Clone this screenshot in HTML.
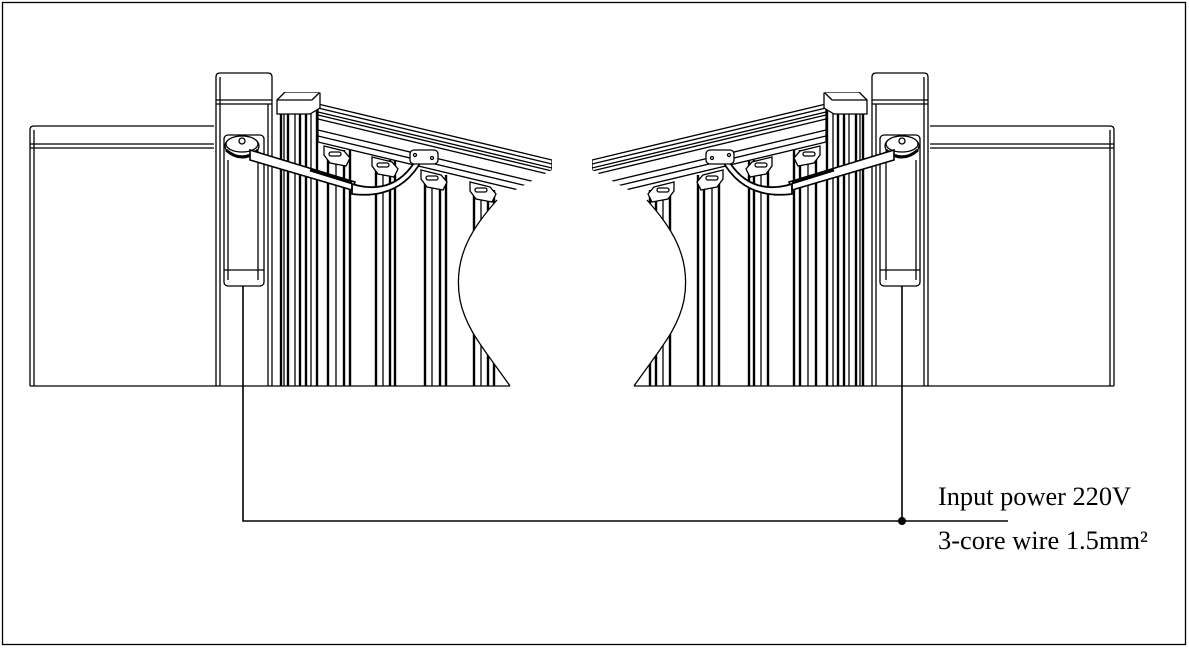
<!DOCTYPE html>
<html><head><meta charset="utf-8"><style>
html,body{margin:0;padding:0;background:#fff;}
svg{display:block}
</style></head><body>
<svg width="1189" height="648" viewBox="0 0 1189 648" xmlns="http://www.w3.org/2000/svg">
<defs>
<clipPath id="gc">
<path d="M276,386 L276,92 L318,92 L552,158 L552,170 L497,200 C475,225 452,255 460,300 C466,330 485,350 510,386 Z"/>
</clipPath>
<g id="side" fill="none" stroke="#000" stroke-width="1.3">
  <path d="M30,386 L30,130 Q30,126 34,126 L214,126"/>
  <line x1="34" y1="130" x2="34" y2="386"/>
  <line x1="30" y1="144" x2="214" y2="144"/>
  <line x1="30" y1="148" x2="214" y2="148"/>
  <line x1="30" y1="386" x2="276" y2="386"/>
  <path d="M216,386 L216,77 Q216,73 220,73 L268,73 Q272,73 272,77 L272,386"/>
  <line x1="220" y1="77" x2="220" y2="386"/>
  <line x1="216" y1="100" x2="272" y2="100"/>
  <line x1="216" y1="104" x2="272" y2="104"/>
  <line x1="268" y1="104" x2="268" y2="386"/>
  <rect x="224" y="135" width="40" height="151" rx="4"/>
  <line x1="228" y1="160" x2="228" y2="280"/>
  <line x1="258" y1="160" x2="258" y2="280"/>
  <line x1="224" y1="270" x2="264" y2="270"/>
  <ellipse cx="242" cy="146" rx="17" ry="10" fill="#fff"/>
  <ellipse cx="242" cy="144" rx="16" ry="8" fill="#fff"/>
  <path d="M226,150 Q242,164 258,150" stroke-width="3"/>
  <circle cx="242" cy="141" r="3"/>
  <g clip-path="url(#gc)">
    <g stroke-width="2.4">
      <line x1="281" y1="100" x2="281" y2="386"/>
      <line x1="288" y1="100" x2="288" y2="386"/>
      <line x1="300" y1="100" x2="300" y2="386"/>
      <line x1="306" y1="100" x2="306" y2="386"/>
      <line x1="317" y1="110" x2="317" y2="386"/>
      <line x1="328" y1="150" x2="328" y2="386"/>
      <line x1="344" y1="150" x2="344" y2="386"/>
      <line x1="350" y1="150" x2="350" y2="386"/>
      <line x1="376" y1="160" x2="376" y2="386"/>
      <line x1="390" y1="160" x2="390" y2="386"/>
      <line x1="395" y1="160" x2="395" y2="386"/>
      <line x1="425" y1="175" x2="425" y2="386"/>
      <line x1="440" y1="175" x2="440" y2="386"/>
      <line x1="446" y1="175" x2="446" y2="386"/>
      <line x1="474" y1="190" x2="474" y2="386"/>
      <line x1="488" y1="190" x2="488" y2="386"/>
      <line x1="494" y1="190" x2="494" y2="386"/>
    </g>
    <line x1="284" y1="100" x2="284" y2="386"/>
    <line x1="295" y1="100" x2="295" y2="386"/>
    <line x1="311" y1="100" x2="311" y2="386"/>
    <line x1="336" y1="150" x2="336" y2="386"/>
    <line x1="383" y1="160" x2="383" y2="386"/>
    <line x1="432" y1="175" x2="432" y2="386"/>
    <line x1="481" y1="190" x2="481" y2="386"/>
    <path d="M318,104 L552,160 L552,198 L318,142 Z" fill="#fff"/>
    <line x1="318" y1="108" x2="552" y2="164"/>
    <line x1="318" y1="112" x2="552" y2="168"/>
    <line x1="318" y1="115" x2="552" y2="171"/>
    <line x1="318" y1="119" x2="552" y2="175"/>
    <line x1="318" y1="130" x2="552" y2="186"/>
    <line x1="318" y1="136" x2="552" y2="192"/>
    <path d="M277,100 L285,92 L320,92 L320,108 L310,114 L277,114 Z" fill="#fff"/>
    <line x1="277" y1="100" x2="312" y2="100"/>
    <line x1="312" y1="100" x2="320" y2="92"/>
    <path d="M324,146 L344,151 L350,158 L346,166 L330,163 L324,155 Z" fill="#fff"/>
    <rect x="329" y="152" width="12" height="4" rx="2"/>
    <path d="M372,157 L392,162 L398,169 L394,177 L378,174 L372,166 Z" fill="#fff"/>
    <rect x="377" y="163" width="12" height="4" rx="2"/>
    <path d="M421,170 L441,175 L447,182 L443,190 L427,187 L421,179 Z" fill="#fff"/>
    <rect x="426" y="176" width="12" height="4" rx="2"/>
    <path d="M470,182 L490,187 L496,194 L492,202 L476,199 L470,191 Z" fill="#fff"/>
    <rect x="475" y="188" width="12" height="4" rx="2"/>
  </g>
  <path d="M497,200 C475,225 452,255 460,300 C466,330 485,350 510,386"/>
  <line x1="276" y1="386" x2="510" y2="386"/>
  <path d="M250,150 L355,182 L352,190 L250,160 Z" fill="#fff" stroke-width="1.6"/>
  <line x1="310" y1="170" x2="352" y2="183" stroke-width="3"/>
  <path d="M352,184 Q392,196 414,163 L422,160 Q400,200 352,194 Z" fill="#fff" stroke-width="1.8"/>
  <rect x="410" y="150" width="28" height="14" rx="4" fill="#fff"/>
  <circle cx="415" cy="155" r="1.5"/><circle cx="432" cy="158" r="1.5"/>
</g>
</defs>
<rect x="2.5" y="2.5" width="1183" height="642" fill="#fff" stroke="#000" stroke-width="1.3"/>
<use href="#side"/>
<use href="#side" transform="translate(1144,0) scale(-1,1)"/>
<g fill="none" stroke="#000" stroke-width="1.6">
  <polyline points="243,286 243,521 1008,521"/>
  <line x1="902" y1="286" x2="902" y2="521"/>
</g>
<circle cx="902" cy="521" r="4" fill="#000"/>
<g font-family="'Liberation Serif',serif" font-size="26" fill="#000">
  <text x="938" y="505" textLength="193" lengthAdjust="spacingAndGlyphs">Input power 220V</text>
  <text x="938" y="549" textLength="210" lengthAdjust="spacingAndGlyphs">3-core wire 1.5mm²</text>
</g>
</svg>
</body></html>
